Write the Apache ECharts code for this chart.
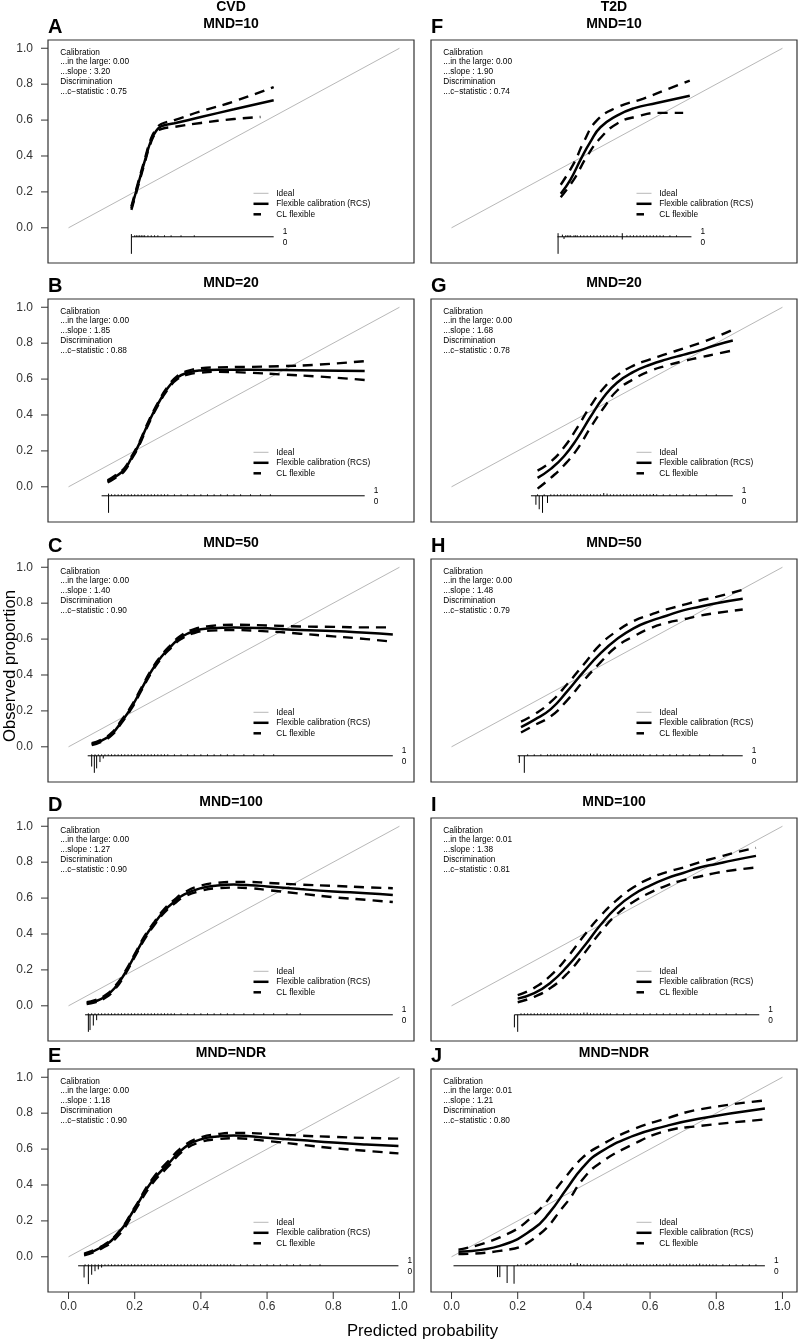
<!DOCTYPE html>
<html>
<head>
<meta charset="utf-8">
<script src="https://cdn.jsdelivr.net/npm/echarts@6/dist/echarts.min.js"></script>
<style>
html,body{margin:0;padding:0;background:#fff;}
#chart{width:798px;height:1340px;}
</style>
</head>
<body>
<div id="chart"></div>
<script>
// ---------------- DATA ----------------
const COLUMN_TITLES = ['CVD', 'T2D'];
const ROW_TITLES = ['MND=10', 'MND=20', 'MND=50', 'MND=100', 'MND=NDR'];
const PANEL_LETTERS = [['A', 'B', 'C', 'D', 'E'], ['F', 'G', 'H', 'I', 'J']];
const AXIS_TICKS = [0, 0.2, 0.4, 0.6, 0.8, 1.0];
const IDEAL = [[0, 0], [1, 1]];
const LEGEND_LABELS = ['Ideal', 'Flexible calibration (RCS)', 'CL flexible'];

const CVD_LARGE = ['0.00', '0.00', '0.00', '0.00', '0.00'];
const CVD_SLOPE = ['3.20', '1.85', '1.40', '1.27', '1.18'];
const CVD_CSTAT = ['0.75', '0.88', '0.90', '0.90', '0.90'];
const T2D_LARGE = ['0.00', '0.00', '0.00', '0.01', '0.01'];
const T2D_SLOPE = ['1.90', '1.68', '1.48', '1.38', '1.21'];
const T2D_CSTAT = ['0.74', '0.78', '0.79', '0.81', '0.80'];

// A  CVD MND=10
const A_fit = [[0.19,0.11],[0.21,0.24],[0.23,0.37],[0.25,0.49],[0.265,0.54],[0.28,0.565],[0.32,0.582],[0.40,0.617],[0.50,0.66],[0.62,0.71]];
const A_up  = [[0.19,0.12],[0.21,0.25],[0.23,0.38],[0.25,0.50],[0.265,0.55],[0.28,0.578],[0.32,0.60],[0.40,0.649],[0.50,0.704],[0.62,0.784]];
const A_lo  = [[0.19,0.10],[0.21,0.23],[0.23,0.36],[0.25,0.48],[0.265,0.53],[0.28,0.55],[0.32,0.562],[0.40,0.584],[0.50,0.606],[0.58,0.617]];
const A_rugRange = [0.19, 0.62];
const A_spikes = [[0.19,0.015],[0.19,-0.095]];
const A_ticks = [0.20,0.205,0.21,0.215,0.22,0.225,0.23,0.24,0.25,0.26,0.27,0.29,0.31,0.34,0.38];

// B  CVD MND=20
const B_fit = [[0.118,0.03],[0.14,0.055],[0.168,0.094],[0.19,0.16],[0.21,0.225],[0.24,0.35],[0.27,0.46],[0.30,0.55],[0.33,0.61],[0.36,0.635],[0.40,0.648],[0.45,0.652],[0.55,0.652],[0.65,0.65],[0.75,0.648],[0.895,0.645]];
const B_up  = [[0.118,0.036],[0.14,0.062],[0.168,0.102],[0.19,0.168],[0.21,0.233],[0.24,0.358],[0.27,0.468],[0.30,0.558],[0.33,0.619],[0.36,0.645],[0.40,0.66],[0.45,0.665],[0.55,0.668],[0.65,0.672],[0.75,0.68],[0.895,0.70]];
const B_lo  = [[0.118,0.024],[0.14,0.048],[0.168,0.086],[0.19,0.152],[0.21,0.217],[0.24,0.342],[0.27,0.452],[0.30,0.542],[0.33,0.601],[0.36,0.625],[0.40,0.636],[0.45,0.64],[0.55,0.635],[0.65,0.625],[0.75,0.615],[0.895,0.595]];
const B_rugRange = [0.10, 0.895];
const B_spikes = [[0.121,0.012],[0.121,-0.095]];
const B_ticks = [0.13,0.14,0.15,0.16,0.17,0.18,0.19,0.20,0.21,0.22,0.23,0.24,0.25,0.26,0.27,0.28,0.29,0.30,0.32,0.34,0.36,0.38,0.40,0.42,0.44,0.46,0.48,0.50,0.52,0.55,0.58,0.61];

// C  CVD MND=50
const C_fit = [[0.07,0.015],[0.10,0.035],[0.13,0.07],[0.16,0.14],[0.19,0.22],[0.22,0.32],[0.25,0.42],[0.28,0.50],[0.31,0.56],[0.34,0.61],[0.38,0.645],[0.43,0.66],[0.50,0.665],[0.60,0.66],[0.70,0.65],[0.80,0.645],[0.90,0.635],[0.98,0.625]];
const C_up  = [[0.07,0.02],[0.10,0.041],[0.13,0.077],[0.16,0.148],[0.19,0.228],[0.22,0.328],[0.25,0.428],[0.28,0.508],[0.31,0.569],[0.34,0.62],[0.38,0.656],[0.43,0.673],[0.50,0.68],[0.60,0.676],[0.70,0.67],[0.80,0.668],[0.90,0.665],[0.98,0.665]];
const C_lo  = [[0.07,0.01],[0.10,0.029],[0.13,0.063],[0.16,0.132],[0.19,0.212],[0.22,0.312],[0.25,0.412],[0.28,0.492],[0.31,0.551],[0.34,0.60],[0.38,0.634],[0.43,0.647],[0.50,0.65],[0.60,0.643],[0.70,0.63],[0.80,0.615],[0.90,0.60],[0.98,0.585]];
const C_rugRange = [0.058, 0.98];
const C_spikes = [[0.07,-0.06],[0.078,-0.095],[0.085,-0.07],[0.095,-0.035],[0.105,-0.015]];
const C_ticks = [0.07,0.08,0.09,0.10,0.11,0.12,0.13,0.14,0.15,0.16,0.17,0.18,0.19,0.20,0.21,0.22,0.23,0.24,0.25,0.26,0.27,0.28,0.29,0.30,0.32,0.34,0.36,0.38,0.40,0.42,0.44,0.46,0.48,0.50,0.53,0.56,0.59,0.62];

// D  CVD MND=100
const D_fit = [[0.055,0.015],[0.08,0.025],[0.11,0.05],[0.14,0.10],[0.17,0.18],[0.20,0.28],[0.23,0.38],[0.26,0.46],[0.29,0.53],[0.32,0.58],[0.35,0.62],[0.40,0.655],[0.45,0.67],[0.50,0.675],[0.55,0.672],[0.60,0.665],[0.70,0.65],[0.80,0.637],[0.90,0.627],[0.98,0.617]];
const D_up  = [[0.055,0.02],[0.08,0.031],[0.11,0.057],[0.14,0.108],[0.17,0.188],[0.20,0.288],[0.23,0.389],[0.26,0.469],[0.29,0.54],[0.32,0.591],[0.35,0.632],[0.40,0.67],[0.45,0.685],[0.50,0.69],[0.55,0.69],[0.60,0.685],[0.70,0.675],[0.80,0.668],[0.90,0.66],[0.98,0.655]];
const D_lo  = [[0.055,0.01],[0.08,0.019],[0.11,0.043],[0.14,0.092],[0.17,0.172],[0.20,0.272],[0.23,0.371],[0.26,0.451],[0.29,0.52],[0.32,0.569],[0.35,0.608],[0.40,0.64],[0.45,0.655],[0.50,0.658],[0.55,0.655],[0.60,0.645],[0.70,0.625],[0.80,0.605],[0.90,0.59],[0.98,0.578]];
const D_rugRange = [0.05, 0.98];
const D_spikes = [[0.06,-0.095],[0.065,-0.085],[0.075,-0.06],[0.085,-0.03]];
const D_ticks = [0.06,0.07,0.08,0.09,0.10,0.11,0.12,0.13,0.14,0.15,0.16,0.17,0.18,0.19,0.20,0.21,0.22,0.23,0.24,0.25,0.26,0.27,0.28,0.29,0.30,0.31,0.32,0.34,0.36,0.38,0.40,0.42,0.44,0.46,0.48,0.50,0.53,0.56,0.59,0.62,0.66,0.70];

// E  CVD MND=NDR
const E_fit = [[0.047,0.013],[0.098,0.052],[0.148,0.126],[0.199,0.265],[0.249,0.413],[0.30,0.515],[0.35,0.608],[0.40,0.654],[0.45,0.67],[0.50,0.676],[0.60,0.663],[0.70,0.65],[0.80,0.636],[0.90,0.625],[0.997,0.617]];
const E_up  = [[0.047,0.018],[0.10,0.058],[0.15,0.135],[0.20,0.275],[0.25,0.425],[0.30,0.53],[0.35,0.62],[0.40,0.665],[0.45,0.683],[0.50,0.69],[0.60,0.685],[0.70,0.675],[0.80,0.668],[0.90,0.662],[0.997,0.658]];
const E_lo  = [[0.047,0.008],[0.10,0.046],[0.15,0.117],[0.20,0.255],[0.25,0.40],[0.30,0.50],[0.35,0.595],[0.40,0.64],[0.45,0.655],[0.50,0.66],[0.60,0.645],[0.70,0.625],[0.80,0.605],[0.90,0.59],[0.997,0.576]];
const E_rugRange = [0.029, 0.997];
const E_spikes = [[0.047,-0.065],[0.06,-0.102],[0.07,-0.05],[0.08,-0.03],[0.09,-0.02],[0.10,-0.01]];
const E_ticks = [0.05,0.06,0.07,0.08,0.09,0.10,0.11,0.12,0.13,0.14,0.15,0.16,0.17,0.18,0.19,0.20,0.21,0.22,0.23,0.24,0.25,0.26,0.27,0.28,0.29,0.30,0.31,0.32,0.33,0.34,0.35,0.36,0.37,0.38,0.39,0.40,0.41,0.42,0.43,0.44,0.45,0.46,0.47,0.48,0.49,0.50,0.52,0.54,0.56,0.58,0.60,0.62,0.64,0.66,0.68,0.70,0.73,0.76];

// F  T2D MND=10
const F_fit = [[0.33,0.19],[0.36,0.27],[0.39,0.38],[0.42,0.48],[0.45,0.56],[0.50,0.625],[0.55,0.665],[0.62,0.695],[0.72,0.735]];
const F_up  = [[0.33,0.24],[0.37,0.36],[0.40,0.48],[0.44,0.60],[0.50,0.67],[0.58,0.72],[0.65,0.77],[0.72,0.82]];
const F_lo  = [[0.33,0.17],[0.37,0.27],[0.41,0.40],[0.45,0.50],[0.50,0.58],[0.56,0.62],[0.63,0.64],[0.70,0.64]];
const F_rugRange = [0.32, 0.725];
const F_spikes = [[0.322,-0.095],[0.322,0.02],[0.335,0.012],[0.34,-0.012],[0.516,0.02],[0.516,-0.015]];
const F_ticks = [0.345,0.35,0.355,0.36,0.37,0.375,0.38,0.39,0.40,0.41,0.42,0.43,0.44,0.45,0.46,0.47,0.48,0.49,0.50,0.53,0.54,0.55,0.56,0.57,0.58,0.59,0.60,0.61,0.62,0.63,0.64,0.66,0.68];

// G  T2D MND=20
const G_fit = [[0.26,0.05],[0.30,0.10],[0.34,0.17],[0.38,0.27],[0.42,0.39],[0.46,0.50],[0.50,0.58],[0.55,0.64],[0.60,0.68],[0.65,0.71],[0.70,0.735],[0.75,0.76],[0.80,0.79],[0.85,0.815]];
const G_up  = [[0.26,0.09],[0.30,0.14],[0.34,0.22],[0.38,0.33],[0.42,0.45],[0.46,0.55],[0.50,0.62],[0.55,0.675],[0.60,0.71],[0.65,0.74],[0.70,0.77],[0.75,0.80],[0.80,0.835],[0.85,0.875]];
const G_lo  = [[0.26,-0.01],[0.30,0.05],[0.34,0.12],[0.38,0.21],[0.42,0.33],[0.46,0.44],[0.50,0.535],[0.55,0.60],[0.60,0.645],[0.65,0.675],[0.70,0.70],[0.75,0.72],[0.80,0.74],[0.85,0.76]];
const G_rugRange = [0.24, 0.85];
const G_spikes = [[0.255,-0.05],[0.265,-0.075],[0.275,-0.095],[0.29,-0.04],[0.46,0.015],[0.47,0.012],[0.61,0.01]];
const G_ticks = [0.26,0.28,0.30,0.31,0.32,0.33,0.34,0.35,0.36,0.37,0.38,0.39,0.40,0.41,0.42,0.43,0.44,0.45,0.48,0.49,0.50,0.51,0.52,0.53,0.54,0.55,0.56,0.57,0.58,0.59,0.60,0.62,0.64,0.66,0.68,0.70,0.72,0.74,0.77,0.80];

// H  T2D MND=50
const H_fit = [[0.21,0.11],[0.25,0.15],[0.30,0.21],[0.35,0.31],[0.40,0.42],[0.45,0.52],[0.50,0.60],[0.55,0.66],[0.60,0.70],[0.65,0.73],[0.70,0.76],[0.75,0.78],[0.80,0.80],[0.88,0.825]];
const H_up  = [[0.21,0.14],[0.25,0.18],[0.30,0.25],[0.35,0.35],[0.40,0.46],[0.45,0.57],[0.50,0.645],[0.55,0.70],[0.60,0.735],[0.65,0.765],[0.70,0.79],[0.75,0.815],[0.80,0.835],[0.88,0.875]];
const H_lo  = [[0.21,0.08],[0.25,0.12],[0.30,0.17],[0.35,0.26],[0.40,0.37],[0.45,0.47],[0.50,0.56],[0.55,0.615],[0.60,0.66],[0.65,0.69],[0.70,0.71],[0.75,0.73],[0.80,0.745],[0.88,0.765]];
const H_rugRange = [0.20, 0.88];
const H_spikes = [[0.205,-0.04],[0.22,-0.095],[0.42,0.012],[0.44,0.012],[0.48,0.01]];
const H_ticks = [0.23,0.25,0.27,0.29,0.30,0.31,0.32,0.33,0.34,0.35,0.36,0.37,0.38,0.39,0.40,0.41,0.43,0.45,0.46,0.47,0.49,0.50,0.51,0.52,0.53,0.54,0.55,0.56,0.57,0.58,0.60,0.62,0.64,0.66,0.68,0.70,0.72,0.75,0.78,0.82];

// I  T2D MND=100
const I_fit = [[0.20,0.04],[0.25,0.07],[0.30,0.13],[0.35,0.22],[0.40,0.33],[0.45,0.45],[0.50,0.55],[0.55,0.62],[0.60,0.67],[0.65,0.71],[0.70,0.74],[0.75,0.77],[0.80,0.79],[0.85,0.81],[0.92,0.835]];
const I_up  = [[0.20,0.06],[0.25,0.10],[0.30,0.17],[0.35,0.27],[0.40,0.39],[0.45,0.50],[0.50,0.59],[0.55,0.66],[0.60,0.71],[0.65,0.745],[0.70,0.77],[0.75,0.80],[0.80,0.825],[0.85,0.85],[0.92,0.88]];
const I_lo  = [[0.20,0.02],[0.25,0.05],[0.30,0.10],[0.35,0.18],[0.40,0.29],[0.45,0.41],[0.50,0.51],[0.55,0.58],[0.60,0.63],[0.65,0.67],[0.70,0.70],[0.75,0.72],[0.80,0.74],[0.85,0.755],[0.92,0.77]];
const I_rugRange = [0.19, 0.93];
const I_spikes = [[0.19,-0.07],[0.20,-0.095],[0.40,0.012],[0.41,0.012]];
const I_ticks = [0.21,0.22,0.23,0.24,0.25,0.26,0.27,0.28,0.29,0.30,0.31,0.32,0.33,0.34,0.35,0.36,0.37,0.38,0.39,0.42,0.43,0.44,0.45,0.46,0.47,0.48,0.50,0.52,0.54,0.56,0.58,0.60,0.62,0.64,0.66,0.68,0.70,0.72,0.74,0.76,0.78,0.80,0.83,0.86,0.89];

// J  T2D MND=NDR
const J_fit = [[0.021,0.028],[0.146,0.061],[0.246,0.154],[0.296,0.246],[0.347,0.376],[0.396,0.497],[0.447,0.58],[0.547,0.672],[0.647,0.728],[0.747,0.769],[0.947,0.826]];
const J_up  = [[0.021,0.04],[0.146,0.108],[0.246,0.228],[0.347,0.45],[0.396,0.552],[0.447,0.617],[0.547,0.709],[0.647,0.769],[0.747,0.82],[0.947,0.871]];
const J_lo  = [[0.021,0.015],[0.146,0.033],[0.246,0.098],[0.347,0.30],[0.396,0.43],[0.447,0.52],[0.547,0.625],[0.647,0.70],[0.747,0.728],[0.947,0.765]];
const J_rugRange = [0.006, 0.947];
const J_spikes = [[0.139,-0.063],[0.146,-0.063],[0.168,-0.096],[0.189,-0.10],[0.36,0.015],[0.38,0.015],[0.39,0.01],[0.53,0.012],[0.62,0.01],[0.66,0.012],[0.75,0.012]];
const J_ticks = [0.20,0.21,0.22,0.23,0.24,0.25,0.26,0.27,0.28,0.29,0.30,0.31,0.32,0.33,0.34,0.35,0.37,0.40,0.41,0.42,0.43,0.44,0.45,0.46,0.47,0.48,0.49,0.50,0.51,0.52,0.54,0.55,0.56,0.57,0.58,0.59,0.60,0.61,0.63,0.64,0.65,0.67,0.68,0.69,0.70,0.71,0.72,0.73,0.74,0.76,0.77,0.78,0.79,0.80,0.82,0.84,0.86,0.88,0.90,0.92];

const RUG_Y = -0.05;
const SMALL_TICK_H = 0.008;

// ---------------- LAYOUT / STYLE ----------------
const FONT = '"Liberation Sans", Arial, Helvetica, sans-serif';
const COL_LEFT = [48, 431];
const ROW_TOP = [40, 299, 559, 818, 1069];
const GRID_W = 366, GRID_H = 223;
const X_MIN = -0.062, X_MAX = 1.044;
const Y_MIN = -0.196, Y_MAX = 1.046;
const TICK_LEN = 7;

const PANELS = [
  [[A_fit, A_up, A_lo, A_rugRange, A_spikes, A_ticks],
   [B_fit, B_up, B_lo, B_rugRange, B_spikes, B_ticks],
   [C_fit, C_up, C_lo, C_rugRange, C_spikes, C_ticks],
   [D_fit, D_up, D_lo, D_rugRange, D_spikes, D_ticks],
   [E_fit, E_up, E_lo, E_rugRange, E_spikes, E_ticks]],
  [[F_fit, F_up, F_lo, F_rugRange, F_spikes, F_ticks],
   [G_fit, G_up, G_lo, G_rugRange, G_spikes, G_ticks],
   [H_fit, H_up, H_lo, H_rugRange, H_spikes, H_ticks],
   [I_fit, I_up, I_lo, I_rugRange, I_spikes, I_ticks],
   [J_fit, J_up, J_lo, J_rugRange, J_spikes, J_ticks]]
];
const STATS = [[CVD_LARGE, CVD_SLOPE, CVD_CSTAT], [T2D_LARGE, T2D_SLOPE, T2D_CSTAT]];

function txt(x, y, text, size, weight, align, extra) {
  return Object.assign({
    type: 'text', x: x, y: y, silent: true,
    style: {
      text: text, fill: '#000', font: (weight || 'normal') + ' ' + size + 'px ' + FONT,
      fontSize: size, fontWeight: weight || 'normal', fontFamily: FONT,
      align: align || 'left', textAlign: align || 'left',
      verticalAlign: 'middle', textVerticalAlign: 'middle'
    }
  }, extra || {});
}
function seg(x1, y1, x2, y2, color, w) {
  return { type: 'line', silent: true, z: 50, shape: { x1: x1, y1: y1, x2: x2, y2: y2 },
    style: { stroke: color, lineWidth: w } };
}

const grids = [], xAxes = [], yAxes = [], series = [], graphics = [];

for (let c = 0; c < 2; c++) {
  graphics.push(txt(COL_LEFT[c] + GRID_W / 2, 7, COLUMN_TITLES[c], 14, 'bold', 'center'));
  for (let r = 0; r < 5; r++) {
    const i = grids.length;
    const left = COL_LEFT[c], top = ROW_TOP[r];
    grids.push({ left: left, top: top, width: GRID_W, height: GRID_H, show: true,
      borderColor: '#333', borderWidth: 1.2, backgroundColor: 'transparent' });
    const bottomRow = r === 4;
    xAxes.push({ gridIndex: i, type: 'value', min: X_MIN, max: X_MAX, show: bottomRow, position: 'bottom',
      axisLine: { show: false, onZero: false }, splitLine: { show: false }, axisTick: { show: false },
      axisLabel: { show: true, customValues: AXIS_TICKS, formatter: v => Number(v).toFixed(1),
        fontSize: 12, color: '#333', fontFamily: FONT, margin: 9 } });
    const leftCol = c === 0;
    yAxes.push({ gridIndex: i, type: 'value', min: Y_MIN, max: Y_MAX, show: leftCol, position: 'left',
      axisLine: { show: false, onZero: false }, splitLine: { show: false }, axisTick: { show: false },
      axisLabel: { show: true, customValues: AXIS_TICKS, formatter: v => Number(v).toFixed(1),
        fontSize: 12, color: '#333', fontFamily: FONT, margin: 15 } });

    // axis tick marks outside the box (same linear mapping as the axis extent)
    AXIS_TICKS.forEach(v => {
      if (leftCol) {
        const y = top + (Y_MAX - v) / (Y_MAX - Y_MIN) * GRID_H;
        graphics.push(seg(left - TICK_LEN, y, left, y, '#333', 1));
      }
      if (bottomRow) {
        const x = left + (v - X_MIN) / (X_MAX - X_MIN) * GRID_W;
        graphics.push(seg(x, top + GRID_H, x, top + GRID_H + TICK_LEN, '#333', 1));
      }
    });

    const [fit, up, lo, rugRange, spikes, ticks] = PANELS[c][r];
    const base = { xAxisIndex: i, yAxisIndex: i, silent: true, animation: false };

    series.push(Object.assign({ type: 'line', data: IDEAL, symbol: 'none',
      lineStyle: { color: '#b8b8b8', width: 1 }, z: 2 }, base));
    const dash = { color: '#000', width: 2.4, type: [10, 7], cap: 'butt' };
    series.push(Object.assign({ type: 'line', data: up, symbol: 'none', smooth: 0.5, lineStyle: dash, z: 3 }, base));
    series.push(Object.assign({ type: 'line', data: lo, symbol: 'none', smooth: 0.5, lineStyle: dash, z: 3 }, base));
    series.push(Object.assign({ type: 'line', data: fit, symbol: 'none', smooth: 0.5,
      lineStyle: { color: '#000', width: 2.5 }, z: 4 }, base));

    // rug baseline + 1/0 labels
    series.push(Object.assign({ type: 'custom', data: [rugRange], z: 5,
      renderItem: function (params, api) {
        const a = api.coord([api.value(0), RUG_Y]);
        const b = api.coord([api.value(1), RUG_Y]);
        const f = '8.3px ' + FONT;
        return { type: 'group', children: [
          { type: 'line', shape: { x1: a[0], y1: a[1], x2: b[0], y2: b[1] }, style: { stroke: '#000', lineWidth: 1 } },
          { type: 'text', x: b[0] + 9, y: b[1] - 5.5, style: { text: '1', font: f, fill: '#000', align: 'left', textAlign: 'left', verticalAlign: 'middle', textVerticalAlign: 'middle' } },
          { type: 'text', x: b[0] + 9, y: b[1] + 5.5, style: { text: '0', font: f, fill: '#000', align: 'left', textAlign: 'left', verticalAlign: 'middle', textVerticalAlign: 'middle' } }
        ] };
      } }, base));
    const spikeRender = function (params, api) {
      const a = api.coord([api.value(0), RUG_Y]);
      const b = api.coord([api.value(0), RUG_Y + api.value(1)]);
      return { type: 'line', shape: { x1: a[0], y1: a[1], x2: b[0], y2: b[1] }, style: { stroke: '#000', lineWidth: 1 } };
    };
    series.push(Object.assign({ type: 'custom', data: spikes, z: 5, renderItem: spikeRender }, base));
    series.push(Object.assign({ type: 'custom', data: ticks.map(x => [x, SMALL_TICK_H]), z: 5, renderItem: spikeRender }, base));

    // titles / letters
    graphics.push(txt(left + GRID_W / 2, top - 15.5, ROW_TITLES[r], 14, 'bold', 'center'));
    graphics.push(txt(left, top - 13, PANEL_LETTERS[c][r], 20, 'bold', 'left'));

    // stats text
    const st = STATS[c];
    const lines = ['Calibration', '...in the large: ' + st[0][r], '...slope : ' + st[1][r], 'Discrimination', '...c\u2212statistic : ' + st[2][r]];
    lines.forEach((t, k) => graphics.push(txt(left + 12.3, top + 12.3 + k * 9.9, t, 8.3, 'normal', 'left')));

    // legend
    const lx = left + 205.5, ly = top + 153.3;
    graphics.push(seg(lx, ly, lx + 15, ly, '#b8b8b8', 1));
    graphics.push(seg(lx, ly + 10.5, lx + 15, ly + 10.5, '#000', 2.5));
    graphics.push(seg(lx, ly + 21, lx + 7.5, ly + 21, '#000', 2.5));
    LEGEND_LABELS.forEach((t, k) => graphics.push(txt(lx + 22.8, ly + k * 10.5, t, 8.3, 'normal', 'left')));
  }
}

// axis titles
graphics.push(txt(10, 666, 'Observed proportion', 16.7, 'normal', 'center', { rotation: Math.PI / 2 }));
graphics.push(txt(422.5, 1331, 'Predicted probability', 16.7, 'normal', 'center'));

const chart = echarts.init(document.getElementById('chart'), null, { renderer: 'canvas' });
chart.setOption({
  animation: false,
  backgroundColor: '#fff',
  grid: grids,
  xAxis: xAxes,
  yAxis: yAxes,
  series: series,
  graphic: graphics
});
</script>
</body>
</html>
